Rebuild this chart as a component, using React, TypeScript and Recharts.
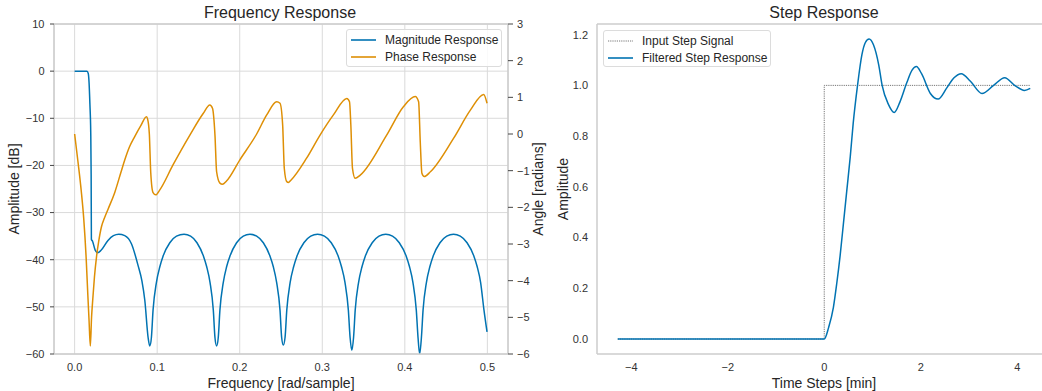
import React from 'react';
import { LineChart, Line, XAxis, YAxis, CartesianGrid, ReferenceLine, Label } from 'recharts';

// ---------- Frequency response data ----------
const magFreq = [
  0, 0.015, 0.0165, 0.0175, 0.0185, 0.0195, 0.02, 0.0203, 0.0215, 0.025, 0.028, 0.032, 0.0404, 0.047, 0.0535,
  0.0607, 0.0688, 0.0768, 0.0815, 0.085, 0.089, 0.091,
  0.093, 0.095, 0.0991, 0.1032, 0.1072, 0.1153, 0.1234, 0.1325, 0.1405, 0.1482, 0.156, 0.16, 0.164, 0.168, 0.17, 0.172,
  0.174, 0.176, 0.1801, 0.1841, 0.1882, 0.1962, 0.2043, 0.2124, 0.2205, 0.2286, 0.2366, 0.2407, 0.2447, 0.2488, 0.2508, 0.2528,
  0.2549, 0.257, 0.2611, 0.2653, 0.2694, 0.2777, 0.286, 0.2943, 0.3026, 0.3109, 0.3192, 0.3233, 0.3275, 0.3316, 0.3337, 0.3358,
  0.3379, 0.3399, 0.344, 0.3481, 0.3522, 0.3605, 0.3687, 0.3769, 0.3851, 0.3933, 0.4016, 0.4057, 0.4098, 0.4139, 0.416, 0.418,
  0.4201, 0.4221, 0.4262, 0.4303, 0.4344, 0.4426, 0.4508, 0.459, 0.4672, 0.4754, 0.4836, 0.4877, 0.4918, 0.4959, 0.4996,
];
const magDb = [
  0, 0, -0.5, -2.5, -7, -13, -22, -35.7, -36.0, -38.0, -38.5, -38.0, -35.9, -34.9, -34.6,
  -34.9, -36.6, -41.2, -44.5, -48.6, -56.5, -58.3,
  -56.5, -50.7, -44.8, -41.5, -39.2, -36.4, -35.0, -34.6, -35.0, -36.4, -39.2, -41.5, -44.8, -50.7, -56.5, -58.3,
  -56.5, -50.7, -44.8, -41.5, -39.2, -36.4, -35.0, -34.6, -35.0, -36.4, -39.2, -41.5, -44.8, -50.7, -56.5, -58.1,
  -56.5, -50.7, -44.8, -41.5, -39.2, -36.4, -35.0, -34.6, -35.0, -36.4, -39.2, -41.5, -44.8, -50.7, -56.5, -59.2,
  -56.5, -50.7, -44.8, -41.5, -39.2, -36.4, -35.0, -34.6, -35.0, -36.4, -39.2, -41.5, -44.8, -50.7, -56.5, -60,
  -56.5, -50.7, -44.8, -41.5, -39.2, -36.4, -35.0, -34.6, -35.0, -36.4, -39.2, -41.5, -44.8, -50.7, -55.3,
];

const phaseFreq = [
  0, 0.004, 0.008, 0.011, 0.014, 0.016, 0.0175, 0.019, 0.0205, 0.022, 0.024, 0.0265, 0.029, 0.0325, 0.036, 0.0405,
  0.0485, 0.056, 0.0607, 0.0665, 0.0728, 0.08, 0.087, 0.0885, 0.0905, 0.0922, 0.095, 0.0983, 0.103, 0.119, 0.1396,
  0.1557, 0.1638, 0.167, 0.17, 0.172, 0.176, 0.179, 0.184, 0.2, 0.2205, 0.2327, 0.2448, 0.2488, 0.252, 0.254, 0.257,
  0.259, 0.262, 0.281, 0.2973, 0.3135, 0.3297, 0.333, 0.3346, 0.3366, 0.3398, 0.346, 0.378, 0.3985, 0.4126, 0.4167,
  0.4187, 0.4207, 0.4235, 0.431, 0.459, 0.4794, 0.4955, 0.4996,
];
const phaseRad = [
  0, -0.75, -1.55, -2.3, -3.4, -4.4, -5.1, -5.78, -5.0, -4.5, -3.9, -3.35, -2.95, -2.53, -2.3, -2.05,
  -1.6, -1.05, -0.71, -0.35, -0.07, 0.22, 0.47, 0.4, 0.0, -1.05, -1.6, -1.66, -1.53, -0.85, -0.03,
  0.56, 0.79, 0.7, -0.03, -1.03, -1.34, -1.37, -1.28, -0.71, 0.0, 0.52, 0.88, 0.84, 0.25, -0.94, -1.3,
  -1.32, -1.26, -0.66, -0.03, 0.52, 0.97, 0.88, 0.25, -0.94, -1.21, -1.12, -0.03, 0.75, 1.02, 0.88,
  -0.21, -1.07, -1.16, -1.03, -0.12, 0.65, 1.08, 0.84,
];

const freqTicks = [0, 0.1, 0.2, 0.3, 0.4, 0.5];
const dbTicks = [-60, -50, -40, -30, -20, -10, 0, 10];
const radTicks = [-6, -5, -4, -3, -2, -1, 0, 1, 2, 3];

// ---------- Step response data ----------
const inputTime = [-4.28, 0, 4.27];
const inputLevel = [0, 1, 1];

const stepTime = [
  -4.28, 0, 0.09, 0.19, 0.26, 0.33, 0.4, 0.47, 0.54, 0.6, 0.69, 0.78, 0.85, 0.93, 1.02, 1.13, 1.2, 1.33, 1.45,
  1.57, 1.71, 1.82, 1.91, 2.02, 2.2, 2.36, 2.54, 2.69, 2.84, 3.03, 3.27, 3.51, 3.74, 3.96, 4.15, 4.27,
];
const stepOut = [
  0, 0, 0.045, 0.125, 0.22, 0.33, 0.46, 0.59, 0.72, 0.85, 1.0, 1.12, 1.168, 1.183, 1.16, 1.08, 1.0, 0.925, 0.893,
  0.935, 1.01, 1.06, 1.074, 1.045, 0.968, 0.946, 0.99, 1.03, 1.046, 1.016, 0.968, 1.0, 1.03, 0.998, 0.98, 0.988,
];

const timeTicks = [-4, -2, 0, 2, 4];
const ampTicks = [0, 0.2, 0.4, 0.6, 0.8, 1.0, 1.2];

// ---------- styling ----------
const FONT = '"Liberation Sans", Arial, Helvetica, sans-serif';
const BLUE = '#0173b2';
const ORANGE = '#de8f05';
const SPINE = '#cccccc';
const GRID = '#dadada';
const TEXT = '#262626';
const TICK_TEXT = '#333333';

const minus = (s: string) => s.replace('-', '\u2212');

const magData = magFreq.map((x, i) => ({ x, y: magDb[i] }));
const phaseData = phaseFreq.map((x, i) => ({ x, y: phaseRad[i] }));
const inputData = inputTime.map((x, i) => ({ x, y: inputLevel[i] }));
const stepData = stepTime.map((x, i) => ({ x, y: stepOut[i] }));

const vLabel = (text: string, offsetX: number) => (props: any) => {
  const vb = props.viewBox || {};
  const cx = (vb.x ?? 0) + offsetX;
  const cy = (vb.y ?? 0) + (vb.height ?? 0) / 2;
  return (
    <text x={cx} y={cy} transform={`rotate(-90 ${cx} ${cy})`} textAnchor="middle" dominantBaseline="central"
      fontSize={14} fill={TEXT} fontFamily={FONT}>{text}</text>
  );
};

const hLabel = (text: string, offsetY: number) => (props: any) => {
  const vb = props.viewBox || {};
  const cx = (vb.x ?? 0) + (vb.width ?? 0) / 2;
  const cy = (vb.y ?? 0) + offsetY;
  return (
    <text x={cx} y={cy} textAnchor="middle" dominantBaseline="central" fontSize={14} fill={TEXT} fontFamily={FONT}>{text}</text>
  );
};

const tickStyle = { fontSize: 11, fill: TICK_TEXT, fontFamily: FONT };

const LegendSwatch = ({ color, dotted }: { color: string; dotted?: boolean }) => (
  <svg width={25} height={4} style={{ position: 'absolute', left: 0, top: -2 }}>
    <line x1={0} y1={2} x2={25} y2={2} stroke={color} strokeWidth={dotted ? 0.9 : 1.6}
      strokeDasharray={dotted ? '1.2 1' : undefined} />
  </svg>
);

const LegendBox = ({ left, top, width, height, items }: any) => (
  <div style={{
    position: 'absolute', left, top, width, height, boxSizing: 'border-box',
    border: '1px solid #dcdcdc', borderRadius: 3, background: 'rgba(255,255,255,0.85)', fontFamily: FONT,
  }}>
    {items.map((it: any, i: number) => (
      <div key={i} style={{ position: 'absolute', left: 4, top: 10 + i * 17, height: 0 }}>
        <LegendSwatch color={it.color} dotted={it.dotted} />
        <span style={{
          position: 'absolute', left: 34, top: -8, fontSize: 12, lineHeight: '16px', color: TEXT, whiteSpace: 'nowrap',
        }}>{it.label}</span>
      </div>
    ))}
  </div>
);

const Title = ({ cx, text }: { cx: number; text: string }) => (
  <div style={{
    position: 'absolute', left: cx - 150, width: 300, top: 3, textAlign: 'center', fontSize: 16,
    lineHeight: '20px', color: TEXT, fontFamily: FONT,
  }}>{text}</div>
);

export default function App() {
  return (
    <div style={{
      position: 'absolute', left: 0, top: 0, width: 1042, height: 391, overflow: 'hidden',
      background: '#ffffff', fontFamily: FONT,
    }}>
      {/* Left: frequency response */}
      <div style={{ position: 'absolute', left: 0, top: 0 }}>
        <LineChart width={560} height={391} margin={{ top: 24, right: 19, bottom: 0, left: 0 }}>
          <CartesianGrid yAxisId="left" stroke={GRID} strokeWidth={1} />
          <XAxis type="number" dataKey="x" domain={[-0.025, 0.525]} allowDataOverflow ticks={freqTicks}
            tickFormatter={(v: number) => v.toFixed(1)} height={37} tickLine={false} tickSize={0} tickMargin={9}
            axisLine={{ stroke: SPINE, strokeWidth: 1.5 }} tick={tickStyle}>
            <Label content={hLabel('Frequency [rad/sample]', 28.5)} />
          </XAxis>
          <YAxis yAxisId="left" type="number" domain={[-60, 10]} ticks={dbTicks} allowDataOverflow width={54}
            tickFormatter={(v: number) => minus(String(v))} tickSize={4} tickMargin={5.5}
            tickLine={{ stroke: '#444', strokeWidth: 1 }} axisLine={{ stroke: SPINE, strokeWidth: 1.5 }} tick={tickStyle}>
            <Label content={vLabel('Amplitude [dB]', 14)} />
          </YAxis>
          <YAxis yAxisId="right" orientation="right" type="number" domain={[-6, 3]} ticks={radTicks} allowDataOverflow
            width={33} tickFormatter={(v: number) => minus(String(v))} tickSize={5} tickMargin={4}
            tickLine={{ stroke: '#444', strokeWidth: 1 }} axisLine={{ stroke: SPINE, strokeWidth: 1.5 }} tick={tickStyle}>
            <Label content={vLabel('Angle [radians]', 30)} />
          </YAxis>
          <ReferenceLine yAxisId="left" y={10} stroke={SPINE} strokeWidth={1.5} />
          <Line yAxisId="left" data={magData} dataKey="y" type="monotone" stroke={BLUE} strokeWidth={1.5}
            dot={false} isAnimationActive={false} />
          <Line yAxisId="right" data={phaseData} dataKey="y" type="monotone" stroke={ORANGE} strokeWidth={1.5}
            dot={false} isAnimationActive={false} />
        </LineChart>
      </div>

      {/* Right: step response */}
      <div style={{ position: 'absolute', left: 540, top: 0 }}>
        <LineChart width={521} height={391} margin={{ top: 24, right: 10, bottom: 0, left: 0 }}>
          <XAxis type="number" dataKey="x" domain={[-4.71, 4.7]} allowDataOverflow ticks={timeTicks}
            tickFormatter={(v: number) => minus(String(v))} height={37} tickLine={false} tickSize={0} tickMargin={9}
            axisLine={{ stroke: SPINE, strokeWidth: 1.5 }} tick={tickStyle}>
            <Label content={hLabel('Time Steps [min]', 28.5)} />
          </XAxis>
          <YAxis type="number" domain={[-0.059, 1.242]} allowDataOverflow ticks={ampTicks} width={57}
            tickFormatter={(v: number) => v.toFixed(1)} tickLine={false} tickSize={0} tickMargin={9}
            axisLine={{ stroke: SPINE, strokeWidth: 1.5 }} tick={tickStyle}>
            <Label content={vLabel('Amplitude', 23)} />
          </YAxis>
          <ReferenceLine y={1.242} stroke={SPINE} strokeWidth={1.5} />
          <Line data={inputData} dataKey="y" type="stepAfter" stroke="#666666" strokeWidth={0.9}
            strokeDasharray="1.2 1" dot={false} isAnimationActive={false} />
          <Line data={stepData} dataKey="y" type="monotone" stroke={BLUE} strokeWidth={1.5}
            dot={false} isAnimationActive={false} />
        </LineChart>
      </div>

      <Title cx={280} text="Frequency Response" />
      <Title cx={824} text="Step Response" />

      <LegendBox left={346} top={29} width={156} height={38} items={[
        { label: 'Magnitude Response', color: BLUE },
        { label: 'Phase Response', color: ORANGE },
      ]} />
      <LegendBox left={603} top={30} width={168} height={37} items={[
        { label: 'Input Step Signal', color: '#666666', dotted: true },
        { label: 'Filtered Step Response', color: BLUE },
      ]} />
    </div>
  );
}
